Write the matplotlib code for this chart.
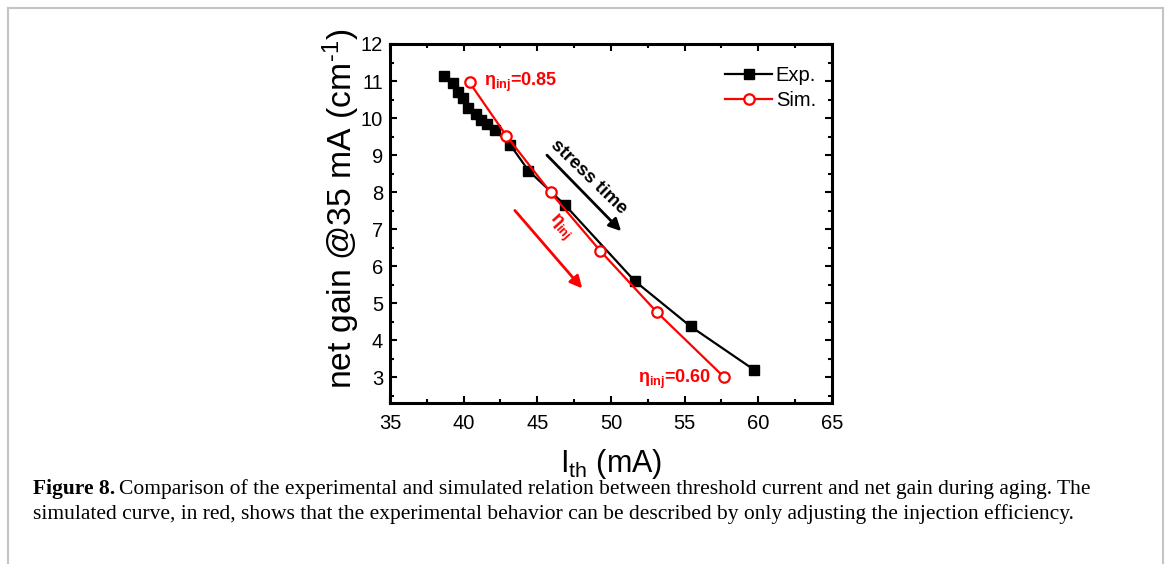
import matplotlib
matplotlib.use("Agg")
import matplotlib.pyplot as plt
from matplotlib.lines import Line2D

# data
exp_x = [38.65, 39.3, 39.6, 39.95, 40.3, 40.85, 41.2, 41.55, 42.1, 43.15, 44.4, 46.9, 51.6, 55.4, 59.7]
exp_y = [11.13, 10.94, 10.71, 10.53, 10.26, 10.12, 9.95, 9.85, 9.68, 9.28, 8.58, 7.64, 5.6, 4.37, 3.2]
sim_x = [40.4, 42.9, 45.9, 49.25, 53.1, 57.7]
sim_y = [10.96, 9.52, 7.99, 6.42, 4.76, 2.99]

xticks = [35, 40, 45, 50, 55, 60, 65]
yticks = [3, 4, 5, 6, 7, 8, 9, 10, 11, 12]

caption_1 = "Comparison of the experimental and simulated relation between threshold current and net gain during aging. The"
caption_2 = "simulated curve, in red, shows that the experimental behavior can be described by only adjusting the injection efficiency."

plt.rcParams['font.family'] = ['Liberation Sans', 'DejaVu Sans']
plt.rcParams['mathtext.fontset'] = 'custom'
plt.rcParams['mathtext.rm'] = 'Liberation Sans'
plt.rcParams['mathtext.it'] = 'Liberation Sans:italic'
plt.rcParams['mathtext.bf'] = 'Liberation Sans:bold'

fig = plt.figure(figsize=(11.68, 5.64), dpi=100)
ax = fig.add_axes([390/1168, 1-403/564, 442/1168, 359/564])

ax.plot(exp_x, exp_y, color='black', lw=1.6, marker='s', ms=7.5, label='Exp.')
ax.plot(sim_x, sim_y, color='red', lw=1.6, marker='o', ms=7.5, mfc='white',
        mec='red', mew=1.6, label='Sim.')

ax.set_xlim(35, 65)
ax.set_ylim(2.3, 12)
ax.set_xticks(xticks)
ax.set_yticks(yticks)
ax.set_xticks([37.5, 42.5, 47.5, 52.5, 57.5, 62.5], minor=True)
ax.set_yticks([y + 0.5 for y in [2] + yticks[:-1]], minor=True)
ax.tick_params(which='both', direction='in', top=True, right=True, labelsize=14.5, width=1.5)
ax.tick_params(which='major', length=5)
ax.tick_params(which='minor', length=3)
ax.tick_params(axis='x', pad=8)
ax.tick_params(axis='y', pad=5)
for s in ax.spines.values():
    s.set_linewidth(2.2)

ax.set_xlabel(r'I$_{\mathrm{th}}$ (mA)', fontsize=22, labelpad=10)
ax.set_ylabel('net gain @35 mA (cm$^{\u2010 1}$)', fontsize=24.3)
ax.yaxis.set_label_coords(-0.064, 0.54)

leg = ax.legend(loc='upper right', bbox_to_anchor=(1.005, 0.99), frameon=False, fontsize=14.5,
                handlelength=2.3, handletextpad=0.2, labelspacing=0.3)

# annotations
ax.text(41.4, 10.97, r'η$_{\mathbf{inj}}$=0.85', color='red', fontsize=13,
        fontweight='bold', ha='left', va='center')
ax.text(51.85, 2.93, r'η$_{\mathbf{inj}}$=0.60', color='red', fontsize=13,
        fontweight='bold', ha='left', va='center')
ax.annotate('', xy=(50.82, 6.89), xytext=(45.52, 9.05),
            arrowprops=dict(arrowstyle='-|>', color='black', lw=2, mutation_scale=18))
ax.text(48.45, 8.4, 'stress time', color='black', fontsize=13.5, fontweight='bold',
        rotation=-44, ha='center', va='center', rotation_mode='anchor')
ax.annotate('', xy=(48.17, 5.34), xytext=(43.35, 7.56),
            arrowprops=dict(arrowstyle='-|>', color='red', lw=2, mutation_scale=18))
ax.text(46.5, 7.05, r'η$_{\mathbf{inj}}$', color='red', fontsize=13, fontweight='bold',
        rotation=-48, ha='center', va='center', rotation_mode='anchor')

# page frame
gray = '#c4c4c4'
fig.add_artist(Line2D([8/1168, 8/1168], [0, 1-8/564], color=gray, lw=1.5))
fig.add_artist(Line2D([1163/1168, 1163/1168], [0, 1-8/564], color=gray, lw=1.5))
fig.add_artist(Line2D([8/1168, 1163/1168], [1-8/564, 1-8/564], color=gray, lw=1.5))

# caption
cap_fs = 15.5
x0 = 33/1168
t = fig.text(x0, 1-489/564, 'Figure 8.', fontsize=cap_fs, fontweight='bold',
             family='Liberation Serif', va='center')
r = fig.canvas.get_renderer()
w = t.get_window_extent(r).width
fig.text(x0 + (w + 4)/1168, 1-489/564, caption_1, fontsize=cap_fs,
         family='Liberation Serif', va='center')
fig.text(x0, 1-514/564, caption_2, fontsize=cap_fs, family='Liberation Serif', va='center')

fig.savefig('out.png', dpi=100)
